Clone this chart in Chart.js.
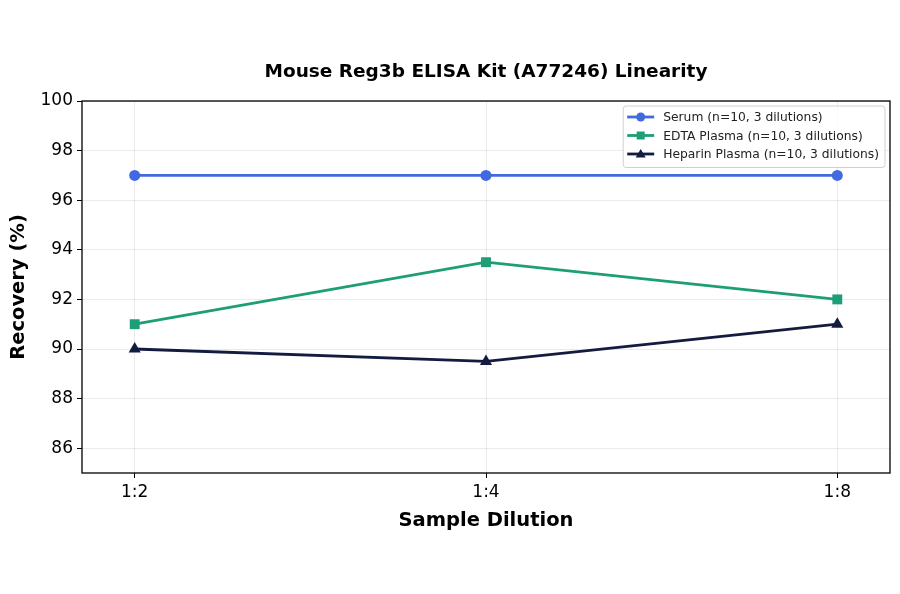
<!DOCTYPE html>
<html>
<head>
<meta charset="utf-8">
<script src="https://cdn.jsdelivr.net/npm/chart.js@4.4.1/dist/chart.umd.min.js"></script>
<style>
  html, body { margin: 0; padding: 0; background: #fff; }
  #wrap { width: 900px; height: 594px; }
</style>
</head>
<body>
<div id="wrap"><canvas id="chart"></canvas></div>
<script>
// Datos
const dilutions = ['1:2', '1:4', '1:8'];
const serum = [97, 97, 97];
const edtaPlasma = [91, 93.5, 92];
const heparinPlasma = [90, 89.5, 91];
const yTicks = [86, 88, 90, 92, 94, 96, 98, 100];
const chartTitle = 'Mouse Reg3b ELISA Kit (A77246) Linearity';

const FONT = 'DejaVu Sans, sans-serif';

const toPoints = values => values.map((v, i) => ({ x: i, y: v }));

/**
 * Título centrado sobre el área de trazado
 */
const areaTitle = {
  id: 'areaTitle',
  afterDraw(chart) {
    const { ctx, chartArea } = chart;
    ctx.save();
    ctx.font = 'bold 18.5px ' + FONT;
    ctx.fillStyle = '#000';
    ctx.textAlign = 'center';
    ctx.textBaseline = 'middle';
    ctx.fillText(chartTitle, (chartArea.left + chartArea.right) / 2, 72);
    ctx.restore();
  }
};

/**
 * Leyenda dentro del área del gráfico, estilo matplotlib
 */
const insideLegend = {
  id: 'insideLegend',
  afterDraw(chart) {
    const { ctx, chartArea } = chart;
    const sets = chart.data.datasets;
    ctx.save();
    ctx.font = '12.3px ' + FONT;
    const textW = Math.max(...sets.map(s => ctx.measureText(s.label).width));
    const rowH = 18.5;
    const w = 40 + textW + 6;
    const h = sets.length * rowH + 6;
    const x0 = chartArea.right - 5 - w;
    const y0 = chartArea.top + 5;

    ctx.fillStyle = 'rgba(255,255,255,0.8)';
    ctx.strokeStyle = '#d0d0d0';
    ctx.lineWidth = 1;
    ctx.beginPath();
    ctx.roundRect(x0, y0, w, h, 3);
    ctx.fill();
    ctx.stroke();

    sets.forEach((s, i) => {
      const cy = y0 + 11 + i * rowH;
      ctx.strokeStyle = s.borderColor;
      ctx.lineWidth = 2.8;
      ctx.beginPath();
      ctx.moveTo(x0 + 4, cy);
      ctx.lineTo(x0 + 31, cy);
      ctx.stroke();
      ctx.fillStyle = s.borderColor;
      const mx = x0 + 17.5;
      ctx.beginPath();
      if (s.pointStyle === 'circle') {
        ctx.arc(mx, cy, 4.5, 0, Math.PI * 2);
      } else if (s.pointStyle === 'rect') {
        ctx.rect(mx - 4, cy - 4, 8, 8);
      } else {
        ctx.moveTo(mx, cy - 5);
        ctx.lineTo(mx + 5, cy + 3.5);
        ctx.lineTo(mx - 5, cy + 3.5);
        ctx.closePath();
      }
      ctx.fill();
      ctx.fillStyle = '#222';
      ctx.textBaseline = 'middle';
      ctx.fillText(s.label, x0 + 40, cy + 1);
    });
    ctx.restore();
  }
};

// Marco completo alrededor del área
const frame = {
  id: 'frame',
  afterDatasetsDraw(chart) {
    const { ctx, chartArea: a } = chart;
    ctx.save();
    ctx.strokeStyle = '#000';
    ctx.lineWidth = 1.3;
    ctx.strokeRect(a.left, a.top, a.right - a.left, a.bottom - a.top);
    ctx.restore();
  }
};

function series(label, data, color, style, radius) {
  return {
    label,
    data: toPoints(data),
    borderColor: color,
    backgroundColor: color,
    borderWidth: 2.8,
    pointStyle: style,
    pointRadius: radius,
    pointHoverRadius: radius,
    pointBorderWidth: 0,
    tension: 0
  };
}

new Chart(document.getElementById('chart'), {
  type: 'line',
  data: {
    datasets: [
      series('Serum (n=10, 3 dilutions)', serum, '#4169E1', 'circle', 5.5),
      series('EDTA Plasma (n=10, 3 dilutions)', edtaPlasma, '#1E9E77', 'rect', 7),
      series('Heparin Plasma (n=10, 3 dilutions)', heparinPlasma, '#141B41', 'triangle', 7)
    ]
  },
  options: {
    responsive: true,
    maintainAspectRatio: false,
    animation: false,
    layout: { padding: { left: 0, right: 10, bottom: 61, top: 101 } },
    plugins: {
      legend: { display: false },
      tooltip: { enabled: false },
      title: { display: false }
    },
    scales: {
      x: {
        type: 'linear',
        min: -0.15,
        max: 2.15,
        afterBuildTicks: axis => { axis.ticks = dilutions.map((_, i) => ({ value: i })); },
        afterFit: axis => { axis.height = 60; },
        ticks: {
          color: '#000',
          font: { family: FONT, size: 17 },
          padding: 4,
          callback: v => dilutions[v]
        },
        grid: { color: 'rgba(0,0,0,0.08)', tickColor: '#000', tickLength: 5 },
        border: { display: false },
        title: {
          display: true,
          text: 'Sample Dilution',
          color: '#000',
          font: { family: FONT, size: 19.5, weight: 'bold' },
          padding: { top: 6, bottom: 0 }
        }
      },
      y: {
        min: 85,
        max: 100,
        afterBuildTicks: axis => { axis.ticks = yTicks.map(v => ({ value: v })); },
        afterFit: axis => { axis.width = 82; },
        ticks: {
          color: '#000',
          font: { family: FONT, size: 17 },
          padding: 4
        },
        grid: { color: 'rgba(0,0,0,0.08)', tickColor: '#000', tickLength: 5 },
        border: { display: false },
        title: {
          display: true,
          text: 'Recovery (%)',
          color: '#000',
          font: { family: FONT, size: 19.5, weight: 'bold' },
          padding: { top: 7, bottom: 0 }
        }
      }
    }
  },
  plugins: [frame, insideLegend, areaTitle]
});
</script>
</body>
</html>
